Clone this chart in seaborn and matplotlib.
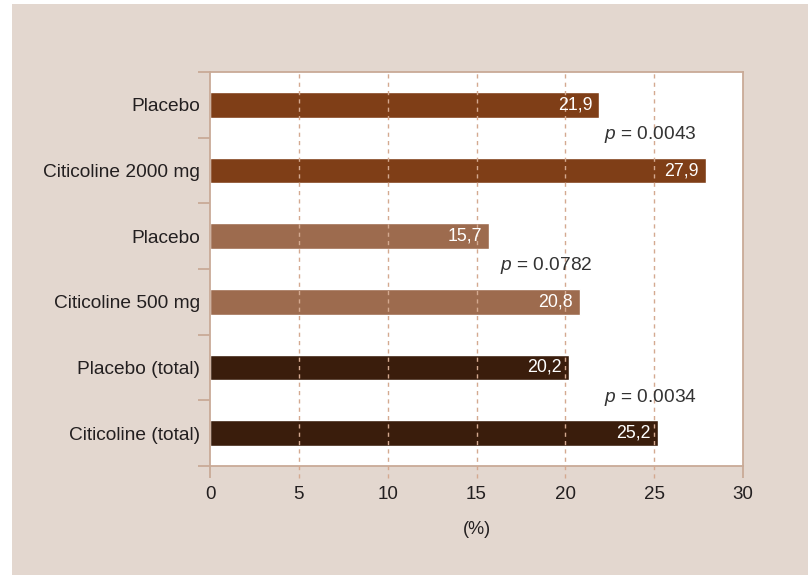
import numpy as np
import pandas as pd
import matplotlib
matplotlib.use("Agg")
import matplotlib.pyplot as plt
import seaborn as sns
from matplotlib.patches import Rectangle

# data
labels = ["Placebo", "Citicoline 2000 mg", "Placebo", "Citicoline 500 mg",
          "Placebo (total)", "Citicoline (total)"]
values = [21.9, 27.9, 15.7, 20.8, 20.2, 25.2]
groups = ["2000 mg", "2000 mg", "500 mg", "500 mg", "total", "total"]
p_values = ["0.0043", "0.0782", "0.0034"]
p_x = [22.2, 16.3, 22.2]
x_ticks = [0, 5, 10, 15, 20, 25, 30]

BEIGE = "#E3D7CF"
TAN = "#C9AA97"
GRID = "#D4A990"
TEXT = "#231F20"
palette = {"2000 mg": "#7F3E17", "500 mg": "#9D6B4E", "total": "#3A1D0C"}

sns.set_style("white")
plt.rcParams["font.family"] = ["Liberation Sans", "DejaVu Sans"]
plt.rcParams["mathtext.fontset"] = "custom"
plt.rcParams["mathtext.it"] = "Liberation Sans:italic"
plt.rcParams["mathtext.rm"] = "Liberation Sans"

df = pd.DataFrame({"row": [f"r{i}" for i in range(len(labels))],
                   "value": values, "group": groups})

fig = plt.figure(figsize=(8.11, 5.75), dpi=100, facecolor="white")
fig.patches.append(Rectangle((12 / 811, 0), 796 / 811, 1 - 4 / 575,
                             transform=fig.transFigure, facecolor=BEIGE,
                             edgecolor="none", zorder=-10))
ax = fig.add_axes([210 / 811, 1 - 466 / 575, 533 / 811, 394 / 575])
ax.set_facecolor("white")

sns.barplot(data=df, y="row", x="value", hue="group", palette=palette,
            dodge=False, width=0.39, legend=False, saturation=1, ax=ax,
            orient="h")

ax.set_xlim(0, 30)
ax.set_ylim(len(labels) - 0.5, -0.5)
ax.set_xticks(x_ticks)
ax.set_yticks(range(len(labels)))
ax.set_yticklabels(labels)
ax.set_yticks(np.arange(-0.5, len(labels), 1), minor=True)
ax.set_ylabel("")
ax.set_xlabel("(%)", fontsize=13, color=TEXT, labelpad=13)

ax.tick_params(axis="y", which="major", left=False, length=0, pad=7,
               labelsize=13.8, labelcolor=TEXT)
ax.tick_params(axis="y", which="minor", left=True, length=8.6, width=1.3,
               color=TAN)
ax.tick_params(axis="x", which="major", bottom=True, length=8.6, width=1.3,
               color=TAN, pad=5.5, labelsize=13.5, labelcolor=TEXT)
# inner ticks are drawn as dashed lines instead
for t in ax.xaxis.get_major_ticks()[1:-1]:
    t.tick1line.set_visible(False)
ax.vlines(x_ticks[1:-1], -12 / 394, 1, transform=ax.get_xaxis_transform(),
          colors=GRID, linestyles=(0, (3, 3)), linewidth=1, clip_on=False,
          zorder=3)

for s in ax.spines.values():
    s.set_color(TAN)
    s.set_linewidth(1.3)

# value labels inside the bars
for c in ax.containers:
    texts = ax.bar_label(c, labels=[f"{v:.1f}".replace(".", ",") for v in c.datavalues],
                         padding=-5, color="white", fontsize=12.8)
    for t in texts:
        t.set_ha("right")
        t.set_zorder(4)

# p-values between pairs
for i, (p, x) in enumerate(zip(p_values, p_x)):
    ax.text(x, 2 * i + 0.45, f"$p$ = {p}", ha="left", va="center",
            fontsize=13.8, color="#333333", zorder=4)

fig.savefig("out.png", dpi=100, facecolor="white")
